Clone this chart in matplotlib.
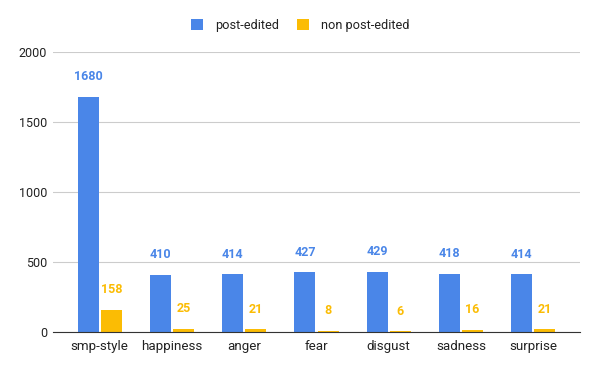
import numpy as np
import matplotlib.pyplot as plt

plt.rcParams['font.family'] = ['Roboto', 'DejaVu Sans']

categories = ['smp-style', 'happiness', 'anger', 'fear', 'disgust', 'sadness', 'surprise']
post_edited = [1680, 410, 414, 427, 429, 418, 414]
non_post_edited = [158, 25, 21, 8, 6, 16, 21]

azul = '#4a86e8'
amarillo = '#fbbc04'

fig = plt.figure(figsize=(6, 3.71), dpi=100)
ax = fig.add_axes([0.088, 0.105, 0.879, 0.755])

x = np.arange(len(categories))
w = 0.29
b1 = ax.bar(x - w/2 - 0.015, post_edited, w, color=azul, label='post-edited', zorder=3)
b2 = ax.bar(x + w/2 + 0.015, non_post_edited, w, color=amarillo, label='non post-edited', zorder=3)

# etiquetas de valores
for barras, vals, col in [(b1, post_edited, azul), (b2, non_post_edited, amarillo)]:
    for r, v in zip(barras, vals):
        ax.annotate(str(v), (r.get_x() + r.get_width()/2, v), xytext=(0, 14.4),
                    textcoords='offset points', ha='center', va='center',
                    color=col, fontsize=9, fontweight='bold')

ax.set_xlim(-0.65, 6.65)
ax.set_ylim(0, 2000)
ax.set_yticks([0, 500, 1000, 1500, 2000])
ax.set_xticks(x)
ax.set_xticklabels(categories)
ax.tick_params(axis='both', length=0, colors='#222222')
ax.tick_params(axis='x', pad=6, labelsize=9.6)
ax.tick_params(axis='y', pad=4, labelsize=9)
ax.yaxis.grid(True, color='#cccccc', linewidth=0.8, zorder=0)
for s in ['top', 'right', 'left']:
    ax.spines[s].set_visible(False)
ax.spines['bottom'].set_color('#333333')
ax.spines['bottom'].set_zorder(4)

fig.legend(loc='upper center', bbox_to_anchor=(0.5, 0.98), ncol=2, frameon=False,
           fontsize=9.2, handlelength=1.0, handleheight=1.0, columnspacing=1.4,
           handletextpad=0.9, labelcolor='#222222')

fig.savefig('out.png', dpi=100)
